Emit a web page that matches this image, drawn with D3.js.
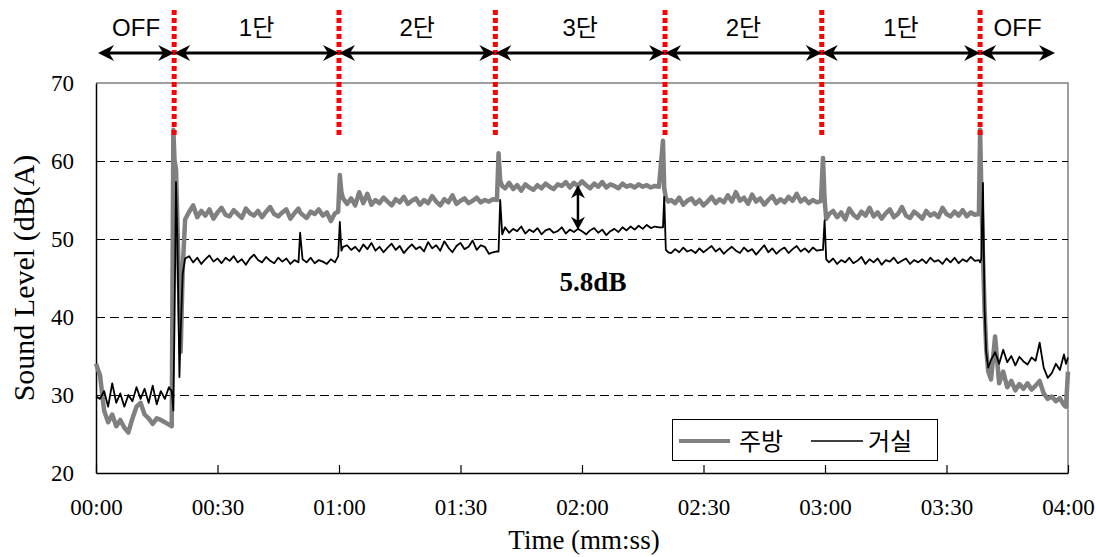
<!DOCTYPE html>
<html><head><meta charset="utf-8">
<script src="https://cdn.jsdelivr.net/npm/d3@7"></script>
<style>body{margin:0;background:#fff} svg{display:block}</style>
</head><body><svg id="c" width="1096" height="557"></svg>
<script>
// time in seconds
const seconds = [
0,1,2,3,4,5,6,7,8,9,10,11,12,13,14,15,16,17,18,18.7,
19.1,19.4,19.75,20.1,20.6,20.9,21.4,22,
23,24,25,26,27,28,29,30,31,32,33,34,35,36,37,38,39,40,41,42,43,44,45,46,47,48,49,50,50.4,
51,52,53,54,55,56,57,58,59,59.8,
60.2,60.6,61,
62,63,64,65,66,67,68,69,70,71,72,73,74,75,76,77,78,79,80,81,82,83,84,85,86,87,88,89,90,91,92,93,94,95,96,97,98,99,
99.4,99.8,100.3,
101,102,103,104,105,106,107,108,109,110,111,112,113,114,115,116,117,118,119,120,121,122,123,124,125,126,127,128,129,130,131,132,133,134,135,136,137,138,139,
140.0,140.3,140.7,141.3,
142,143,144,145,146,147,148,149,150,151,152,153,154,155,156,157,158,159,160,161,162,163,164,165,166,167,168,169,170,171,172,173,174,175,176,177,178,179,
179.5,179.9,180.3,181,
182,183,184,185,186,187,188,189,190,191,192,193,194,195,196,197,198,199,200,201,202,203,204,205,206,207,208,209,210,211,212,213,214,215,216,217,
218.0,218.3,218.6,219.0,219.4,219.8,220.3,221,
222,223,224,225,226,227,228,229,230,231,232,233,234,235,236,237,238,239,239.5,240
];
// 주방 (kitchen), dB(A)
const kitchen = [
34,32.5,28,26.5,27.5,26,26.8,25.8,25.2,27,28.5,29,27.5,27,26.3,27,26.8,26.5,26.2,26,
64,60,59,52,42,35.5,46,52.5,
53.5,54.3,52.8,53.6,53.0,53.8,52.6,53.4,54.0,53.1,52.9,53.7,53.2,52.7,53.9,53.3,53.0,53.6,52.8,53.5,54.1,53.2,52.9,53.4,53.8,52.6,53.3,53.9,53.4,
53.1,52.7,53.5,53.2,53.8,53.0,53.4,52.3,53.3,53.5,
58.2,56,55.2,
54.5,55.2,54.3,56.0,54.6,55.8,54.4,55.0,54.6,55.3,54.8,54.3,55.1,54.7,55.4,54.5,54.9,55.2,54.4,55.0,54.6,55.5,54.8,54.3,55.1,54.7,55.6,54.5,54.9,55.2,54.6,54.9,55.3,54.7,55.0,54.8,55.1,55.0,
61,57.5,56.8,
56.5,57.2,56.4,56.9,56.2,57.0,56.6,56.3,56.9,56.5,57.1,56.7,56.4,57.0,56.8,57.3,56.6,57.2,56.8,57.4,56.9,56.5,57.1,56.7,57.3,56.6,57.0,56.8,56.5,57.1,56.7,56.9,56.6,57.0,56.7,56.9,56.6,56.8,56.7,
62.6,56.5,55.3,54.8,
55.0,54.6,55.3,54.4,54.9,55.2,54.5,55.0,54.3,54.8,55.4,54.6,55.1,54.7,55.6,54.8,56.0,54.9,55.3,54.5,55.7,54.8,55.2,54.4,55.0,55.5,54.6,55.1,54.7,55.4,54.9,55.8,54.8,55.2,54.6,55.0,54.7,54.9,
60.4,55,52.6,53.2,
53.6,52.8,53.4,52.5,53.9,53.1,52.7,53.5,53.0,54.0,52.9,53.4,52.6,53.3,53.8,52.8,53.2,54.1,53.0,52.7,53.5,53.1,52.6,53.6,53.0,53.3,52.8,54.0,53.2,52.9,53.5,53.0,53.7,52.9,53.4,53.1,
53.2,64,56,48,41,36,33,32,
37.5,31.5,33,31,31.8,30.6,31.4,30.8,31.5,30.7,31.2,31.8,30.2,29.5,29.8,29.2,29.6,28.7,28.5,33
];
// 거실 (living room), dB(A)
const living = [
29.8,29.5,30.5,28.5,31.5,29,30.2,28.5,30,29.2,31,29.5,30.8,29,31.2,28.8,30.5,29.5,31,30.5,
28,40,57.3,50,32.3,38,45.5,47.5,
47.8,47.0,47.6,46.8,47.4,47.9,47.1,47.5,46.9,47.6,47.2,47.8,47.0,47.4,46.7,47.5,48.0,47.3,47.0,47.7,47.2,46.9,47.6,47.1,47.5,46.8,47.3,47.0,50.8,
47.4,47.0,47.6,46.9,47.3,47.1,46.8,47.4,47.0,47.8,
52.2,48.5,49.0,
49.2,48.6,49.0,48.4,49.3,48.7,49.5,48.5,49.0,48.3,48.9,49.4,48.6,49.1,48.2,48.8,49.3,48.7,49.0,48.4,49.6,48.8,49.2,48.5,49.7,48.9,48.3,49.1,49.5,48.7,49.0,49.8,48.6,49.2,49.0,48.1,48.3,48.4,
48.4,55,50.6,
51.5,50.8,51.3,51.0,51.6,50.7,51.2,50.9,51.4,50.6,51.1,51.3,50.8,51.0,51.5,50.7,51.2,50.9,51.3,51.0,50.6,51.1,51.4,50.8,51.2,50.5,51.0,51.3,50.9,51.5,51.1,51.6,51.2,51.7,51.3,51.8,51.4,51.6,51.5,
51.5,55.4,48.6,48.3,
48.2,48.7,48.3,48.9,48.4,48.6,48.2,48.8,48.3,48.7,49.1,48.4,48.8,48.1,48.6,49.0,48.5,48.2,48.9,48.4,48.7,48.0,48.6,49.2,48.3,48.8,48.1,48.6,48.9,48.2,48.7,49.1,48.4,48.8,48.3,48.9,48.5,48.6,
48.6,52.4,47.4,47.0,
47.5,46.8,47.3,47.0,47.6,46.9,47.2,47.7,46.8,47.4,47.0,47.5,46.7,47.3,47.1,47.6,46.9,47.2,47.5,46.8,47.3,47.0,47.4,46.9,47.6,47.1,47.3,46.8,47.5,47.0,47.6,46.9,47.4,47.1,47.7,47.2,
47.3,47.0,47.5,57.2,41,35.5,33.5,34.5,
35.5,34.0,35.8,34.2,35.0,33.8,34.9,34.3,33.9,34.8,34.4,36.7,33.5,32.2,32.8,34.0,33.2,35.2,34.0,34.8
];
const seriesNames = ["주방", "거실"];
const xTickValues = [0,30,60,90,120,150,180,210,240];
const xTickLabels = ["00:00","00:30","01:00","01:30","02:00","02:30","03:00","03:30","04:00"];
const yTickValues = [20,30,40,50,60,70];
const gridValues = [30,40,50,60];
const stageBounds = [0.5,19.3,60,98.6,140.5,179.2,218.3,236.8];
const stageLabels = ["OFF","1단","2단","3단","2단","1단","OFF"];
const switchTimes = [19.3,60,98.6,140.5,179.2,218.3];
const diffTime = 119;
const diffLevels = [56.9, 51.2];
const diffLabel = "5.8dB";

if (seconds.length !== kitchen.length || seconds.length !== living.length)
  console.error("length mismatch", seconds.length, kitchen.length, living.length);

const svg = d3.select("#c");
const x = d3.scaleLinear().domain([0,240]).range([96,1068]);
const y = d3.scaleLinear().domain([20,70]).range([473,83]);
const serif = "'Liberation Serif','Times New Roman',serif";
const sans = "'Liberation Sans','Noto Sans CJK KR',sans-serif";
const kr = "'Noto Sans CJK KR','Liberation Sans',sans-serif";

// frame (top/right gray)
svg.append("path")
  .attr("d", `M${x(0)},${y(70)}H${x(240)}V${y(20)}`)
  .attr("fill","none").attr("stroke","#808080").attr("stroke-width",1.5);

// gridlines
svg.append("g").selectAll("line").data(gridValues).join("line")
  .attr("x1", x(0)).attr("x2", x(240))
  .attr("y1", d=>y(d)+0.5).attr("y2", d=>y(d)+0.5)
  .attr("shape-rendering","crispEdges")
  .attr("stroke","#000").attr("stroke-width",1).attr("stroke-dasharray","9,5");

// axes
const xAxis = d3.axisBottom(x).tickValues(xTickValues)
  .tickFormat((d,i)=>xTickLabels[i]).tickSizeInner(-8).tickSizeOuter(0).tickPadding(26);
const gx = svg.append("g").attr("transform",`translate(0,${y(20)})`).call(xAxis);
gx.select(".domain").attr("stroke","#000").attr("stroke-width",1.5);
gx.selectAll(".tick line").attr("stroke","#000").attr("stroke-width",1.2);
gx.selectAll("text").attr("font-family",serif).attr("font-size",23).attr("fill","#000");

const yAxis = d3.axisLeft(y).tickValues(yTickValues).tickSize(0).tickPadding(22);
const gy = svg.append("g").attr("transform",`translate(${x(0)},0)`).call(yAxis);
gy.select(".domain").attr("stroke","#000").attr("stroke-width",1.5);
gy.selectAll("text").attr("font-family",serif).attr("font-size",23).attr("fill","#000");

// titles
svg.append("text").attr("x", 584).attr("y", 549).attr("text-anchor","middle")
  .attr("font-family",serif).attr("font-size",27).text("Time (mm:ss)");
svg.append("text").attr("transform","translate(34,278) rotate(-90)").attr("text-anchor","middle")
  .attr("font-family",serif).attr("font-size",30).text("Sound Level (dB(A)");

// series
const idx = d3.range(seconds.length);
const mk = arr => d3.line().x(i=>x(seconds[i])).y(i=>y(arr[i]));
svg.append("path").attr("d", mk(kitchen)(idx)).attr("fill","none")
  .attr("stroke","#808080").attr("stroke-width",4.5).attr("stroke-linejoin","round");
svg.append("path").attr("d", mk(living)(idx)).attr("fill","none")
  .attr("stroke","#000").attr("stroke-width",1.8).attr("stroke-linejoin","round");

// red switch lines
svg.append("g").selectAll("line").data(switchTimes).join("line")
  .attr("x1", d=>x(d)).attr("x2", d=>x(d)).attr("y1", 10).attr("y2", 137)
  .attr("stroke","#ff0000").attr("stroke-width",5).attr("stroke-dasharray","5,3");

// arrowhead helper: tip at (tx,ty), direction (dx,dy) unit
function head(g, tx, ty, dx, dy, L, W, N) {
  const px = -dy, py = dx;
  const p = [
    [tx, ty],
    [tx - dx*L + px*W, ty - dy*L + py*W],
    [tx - dx*N, ty - dy*N],
    [tx - dx*L - px*W, ty - dy*L - py*W]
  ];
  g.append("path").attr("d", "M"+p.map(q=>q.join(",")).join("L")+"Z").attr("fill","#000");
}

// stage arrows
const ga = svg.append("g");
const arrowY = 53;
stageLabels.forEach((lab,i)=>{
  const a = x(stageBounds[i]), b = x(stageBounds[i+1]);
  ga.append("line").attr("x1",a+4).attr("x2",b-4).attr("y1",arrowY).attr("y2",arrowY)
    .attr("stroke","#000").attr("stroke-width",3);
  head(ga, a, arrowY, -1, 0, 16, 8, 11);
  head(ga, b, arrowY, 1, 0, 16, 8, 11);
  ga.append("text").attr("x",(a+b)/2).attr("y",36).attr("text-anchor","middle")
    .attr("font-family",sans).attr("font-size",24).text(lab);
});

// 5.8dB difference arrow
const dx0 = x(diffTime), dy1 = y(diffLevels[0]), dy2 = y(diffLevels[1]);
svg.append("line").attr("x1",dx0).attr("x2",dx0).attr("y1",dy1+6).attr("y2",dy2-6)
  .attr("stroke","#000").attr("stroke-width",2.5);
head(svg, dx0, dy1, 0, -1, 13, 7, 9);
head(svg, dx0, dy2, 0, 1, 13, 7, 9);
svg.append("text").attr("x",593).attr("y",291).attr("text-anchor","middle")
  .attr("font-family",serif).attr("font-weight","bold").attr("font-size",27).text(diffLabel);

// legend
const lg = svg.append("g");
lg.append("rect").attr("x",672.5).attr("y",419.5).attr("width",265).attr("height",41)
  .attr("fill","#fff").attr("stroke","#000").attr("stroke-width",1);
const legItems = [
  {name: seriesNames[0], color:"#808080", w:4, x1:679, x2:730, tx:739},
  {name: seriesNames[1], color:"#000", w:1.6, x1:811, x2:863, tx:868}
];
legItems.forEach(it=>{
  lg.append("line").attr("x1",it.x1).attr("x2",it.x2).attr("y1",441).attr("y2",441)
    .attr("stroke",it.color).attr("stroke-width",it.w);
  lg.append("text").attr("x",it.tx).attr("y",450).attr("font-family",kr)
    .attr("font-size",24).text(it.name);
});
</script></body></html>
